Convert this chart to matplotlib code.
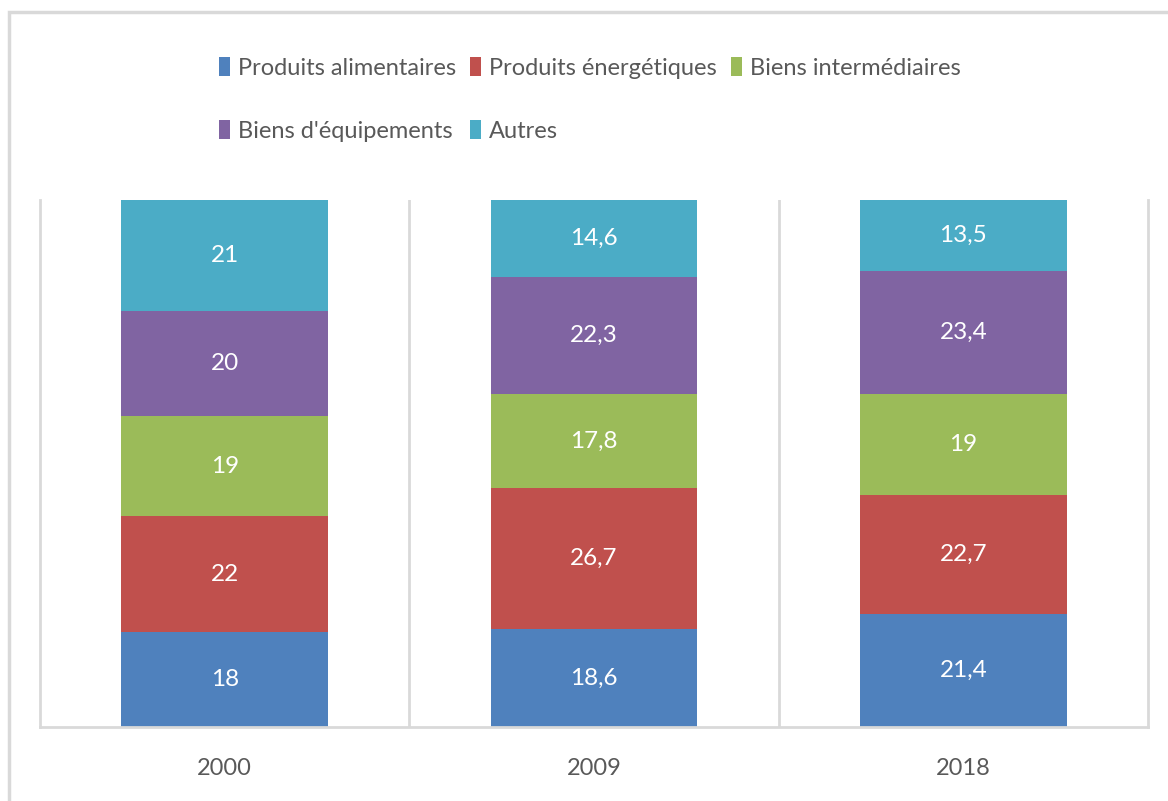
import matplotlib
matplotlib.use("Agg")
import matplotlib.pyplot as plt
from matplotlib.patches import Rectangle
import numpy as np

# données (parts en %)
annees = ["2000", "2009", "2018"]
series = ["Produits alimentaires", "Produits énergétiques", "Biens intermédiaires",
          "Biens d'équipements", "Autres"]
alimentaires = [18, 18.6, 21.4]
energetiques = [22, 26.7, 22.7]
intermediaires = [19, 17.8, 19]
equipements = [20, 22.3, 23.4]
autres = [21, 14.6, 13.5]
couleurs = ["#4F81BD", "#C0504D", "#9BBB59", "#8064A2", "#4BACC6"]

valeurs = [alimentaires, energetiques, intermediaires, equipements, autres]

plt.rcParams["font.family"] = ["Lato", "DejaVu Sans"]

fig = plt.figure(figsize=(11.68, 8.01), dpi=100)
ax = fig.add_axes([40 / 1168, 74 / 801, 1108 / 1168, 527 / 801])

# cadre gris clair autour du graphique
fig.patches.append(Rectangle((9 / 1168, -0.1), 1.2, 0.1 + (801 - 12) / 801,
                             transform=fig.transFigure, fill=False,
                             edgecolor="#D9D9D9", linewidth=2.5))

x = np.arange(len(annees))
bas = np.zeros(len(annees))
handles = []
for nom, vals, c in zip(series, valeurs, couleurs):
    bars = ax.bar(x, vals, width=0.56, bottom=bas, color=c, label=nom, zorder=2)
    etiquettes = [f"{v:g}".replace(".", ",") for v in vals]
    ax.bar_label(bars, labels=etiquettes, label_type="center", color="white",
                 fontsize=17.5)
    bas += np.array(vals)
    handles.append(bars)

ax.set_xlim(-0.5, 2.5)
ax.set_ylim(0, 100)
ax.set_yticks([])
ax.set_xticks(x)
ax.set_xticklabels(annees, fontsize=17, color="#595959")
ax.tick_params(axis="x", length=0, pad=22)

# séparateurs verticaux entre catégories
for xv in [0.5, 1.5]:
    ax.axvline(xv, color="#D9D9D9", linewidth=2, zorder=1)
for s in ["left", "right", "bottom"]:
    ax.spines[s].set_color("#D9D9D9")
    ax.spines[s].set_linewidth(2)
ax.spines["top"].set_visible(False)

# légende sur deux lignes (ordre par ligne)
ordre = [0, 3, 1, 4, 2]
leg = fig.legend([handles[i] for i in ordre], [series[i] for i in ordre],
                 loc="upper center", bbox_to_anchor=(0.505, 0.955), ncol=3,
                 frameon=False, fontsize=17, labelcolor="#595959",
                 handlelength=0.45, handleheight=0.85, handletextpad=0.35,
                 columnspacing=0.6, labelspacing=1.75)

fig.savefig("out.png", dpi=100)
